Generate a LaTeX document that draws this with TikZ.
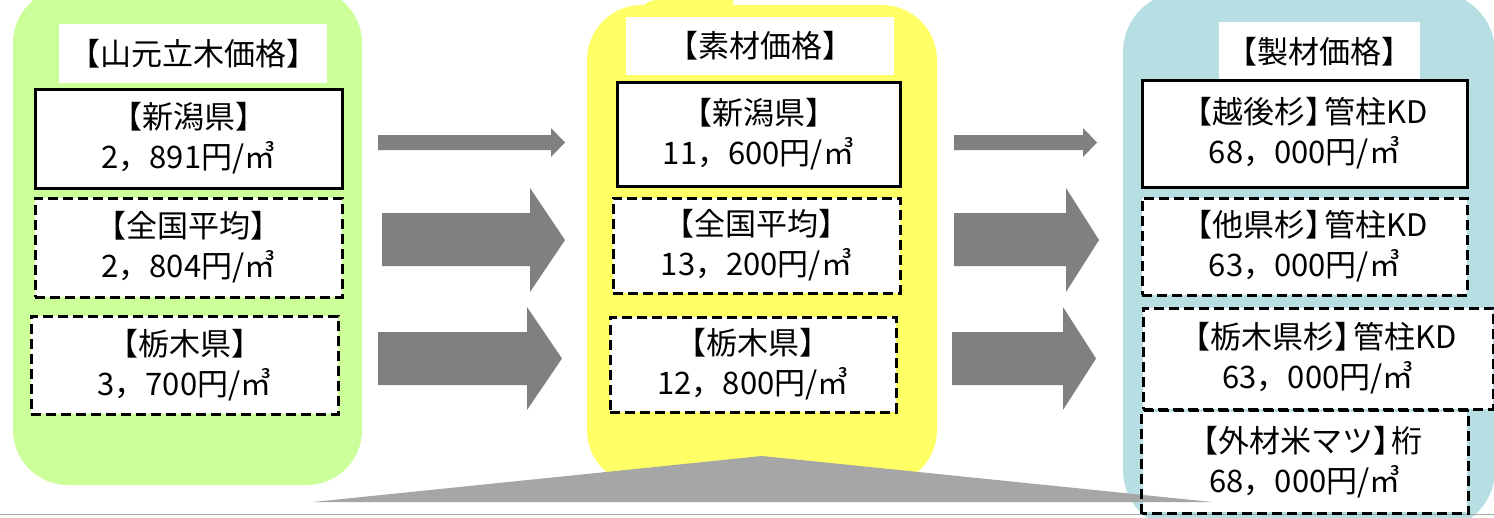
\documentclass[tikz,border=0pt]{standalone}
\usepackage{fontspec}
\setmainfont{Noto Sans CJK JP}
\newcommand\mybxfont{\fontsize{31}{40}\selectfont}
\newcommand\tightrb{】\kern-.4em}
\definecolor{greenc}{HTML}{CCFF99}
\definecolor{yellowc}{HTML}{FFFF66}
\definecolor{bluec}{HTML}{B7DEE3}
\definecolor{arrowc}{HTML}{808080}
\definecolor{tric}{HTML}{A6A6A6}
\begin{document}
\begin{tikzpicture}[x=1pt,y=-1pt,
  solidbox/.style={draw=black, line width=3pt, fill=white, inner sep=0pt, align=center, font=\mybxfont},
  dashbox/.style={solidbox, dash pattern=on 10pt off 5pt},
  titlebox/.style={fill=white, inner sep=0pt, font=\mybxfont},
  blockarrow/.style={fill=arrowc},
  panel/.style={rounded corners=#1}]
\useasboundingbox (0,0) rectangle (1494,517);
\clip (0,0) rectangle (1494,517);
\fill[white] (0,0) rectangle (1494,517);
% panels
\fill[greenc, panel=55pt] (13,-12) rectangle (362,485);
\fill[yellowc, panel=55pt] (587,5) rectangle (937,485);
\fill[yellowc] (643,6) .. controls (648,1) and (652,0) .. (660,0) -- (733,0) -- (733,6) -- cycle;
\fill[bluec, panel=60pt] (1123,-8) rectangle (1495,530);
\draw[tric, line width=1.5pt] (0,514.5) -- (1494,514.5);
% titles
\node[titlebox, minimum width=268pt, minimum height=59pt] (tL) at (193,53.5) {【山元立木価格】};
\node[titlebox, minimum width=268pt, minimum height=58pt] (tM) at (760,46) {【素材価格】};
\node[titlebox, minimum width=201pt, minimum height=59pt] (tR) at (1319.5,51.5) {【製材価格】};
% left boxes
\node[solidbox, minimum width=307pt, minimum height=99pt] (L1) at (188.5,138.5) {【新潟県】\\2，891円/㎥};
\node[dashbox, minimum width=307pt, minimum height=99pt] (L2) at (188.5,247.5) {【全国平均】\\2，804円/㎥};
\node[dashbox, minimum width=307pt, minimum height=98pt] (L3) at (184.5,365) {【栃木県】\\3，700円/㎥};
% middle boxes
\node[solidbox, minimum width=283pt, minimum height=104pt] (M1) at (758.5,134) {【新潟県】\\11，600円/㎥};
\node[dashbox, minimum width=287pt, minimum height=95pt] (M2) at (756.5,245.5) {【全国平均】\\13，200円/㎥};
\node[dashbox, minimum width=286pt, minimum height=95pt] (M3) at (753,364.5) {【栃木県】\\12，800円/㎥};
% right boxes
\node[solidbox, minimum width=325pt, minimum height=107pt] (R1) at (1304.5,133.5) {【越後杉\tightrb 管柱KD\\68，000円/㎥};
\node[dashbox, minimum width=325pt, minimum height=97pt] (R2) at (1304.5,246.5) {【他県杉\tightrb 管柱KD\\63，000円/㎥};
\node[dashbox, minimum width=350pt, minimum height=101pt] (R3) at (1318,358.5) {【栃木県杉\tightrb 管柱KD\\63，000円/㎥};
\node[solidbox, draw=none, minimum width=324pt, minimum height=100pt] (R4) at (1305,462) {【外材米マツ\tightrb 桁\\68，000円/㎥};
% bottom triangle
\fill[tric] (313,502) -- (762,456) -- (1212,502) -- cycle;
\draw[black, line width=3pt, dash pattern=on 10pt off 5pt] (R4.south west) rectangle (R4.north east);
% block arrows left -> middle
\fill[blockarrow] (378,135) -- (551,135) -- (551,128) -- (565,142.5) -- (551,157) -- (551,150) -- (378,150) -- cycle;
\fill[blockarrow] (382,213) -- (530,213) -- (530,188) -- (565,240) -- (530,292) -- (530,266) -- (382,266) -- cycle;
\fill[blockarrow] (378,332) -- (527,332) -- (527,307) -- (562,358.5) -- (527,410) -- (527,385) -- (378,385) -- cycle;
% block arrows middle -> right
\fill[blockarrow] (954,135) -- (1083,135) -- (1083,128) -- (1097,142.5) -- (1083,157) -- (1083,150) -- (954,150) -- cycle;
\fill[blockarrow] (954,213) -- (1066,213) -- (1066,188) -- (1099,240) -- (1066,292) -- (1066,266) -- (954,266) -- cycle;
\fill[blockarrow] (952,332) -- (1063,332) -- (1063,307) -- (1096,358.5) -- (1063,410) -- (1063,385) -- (952,385) -- cycle;
\end{tikzpicture}
\end{document}
